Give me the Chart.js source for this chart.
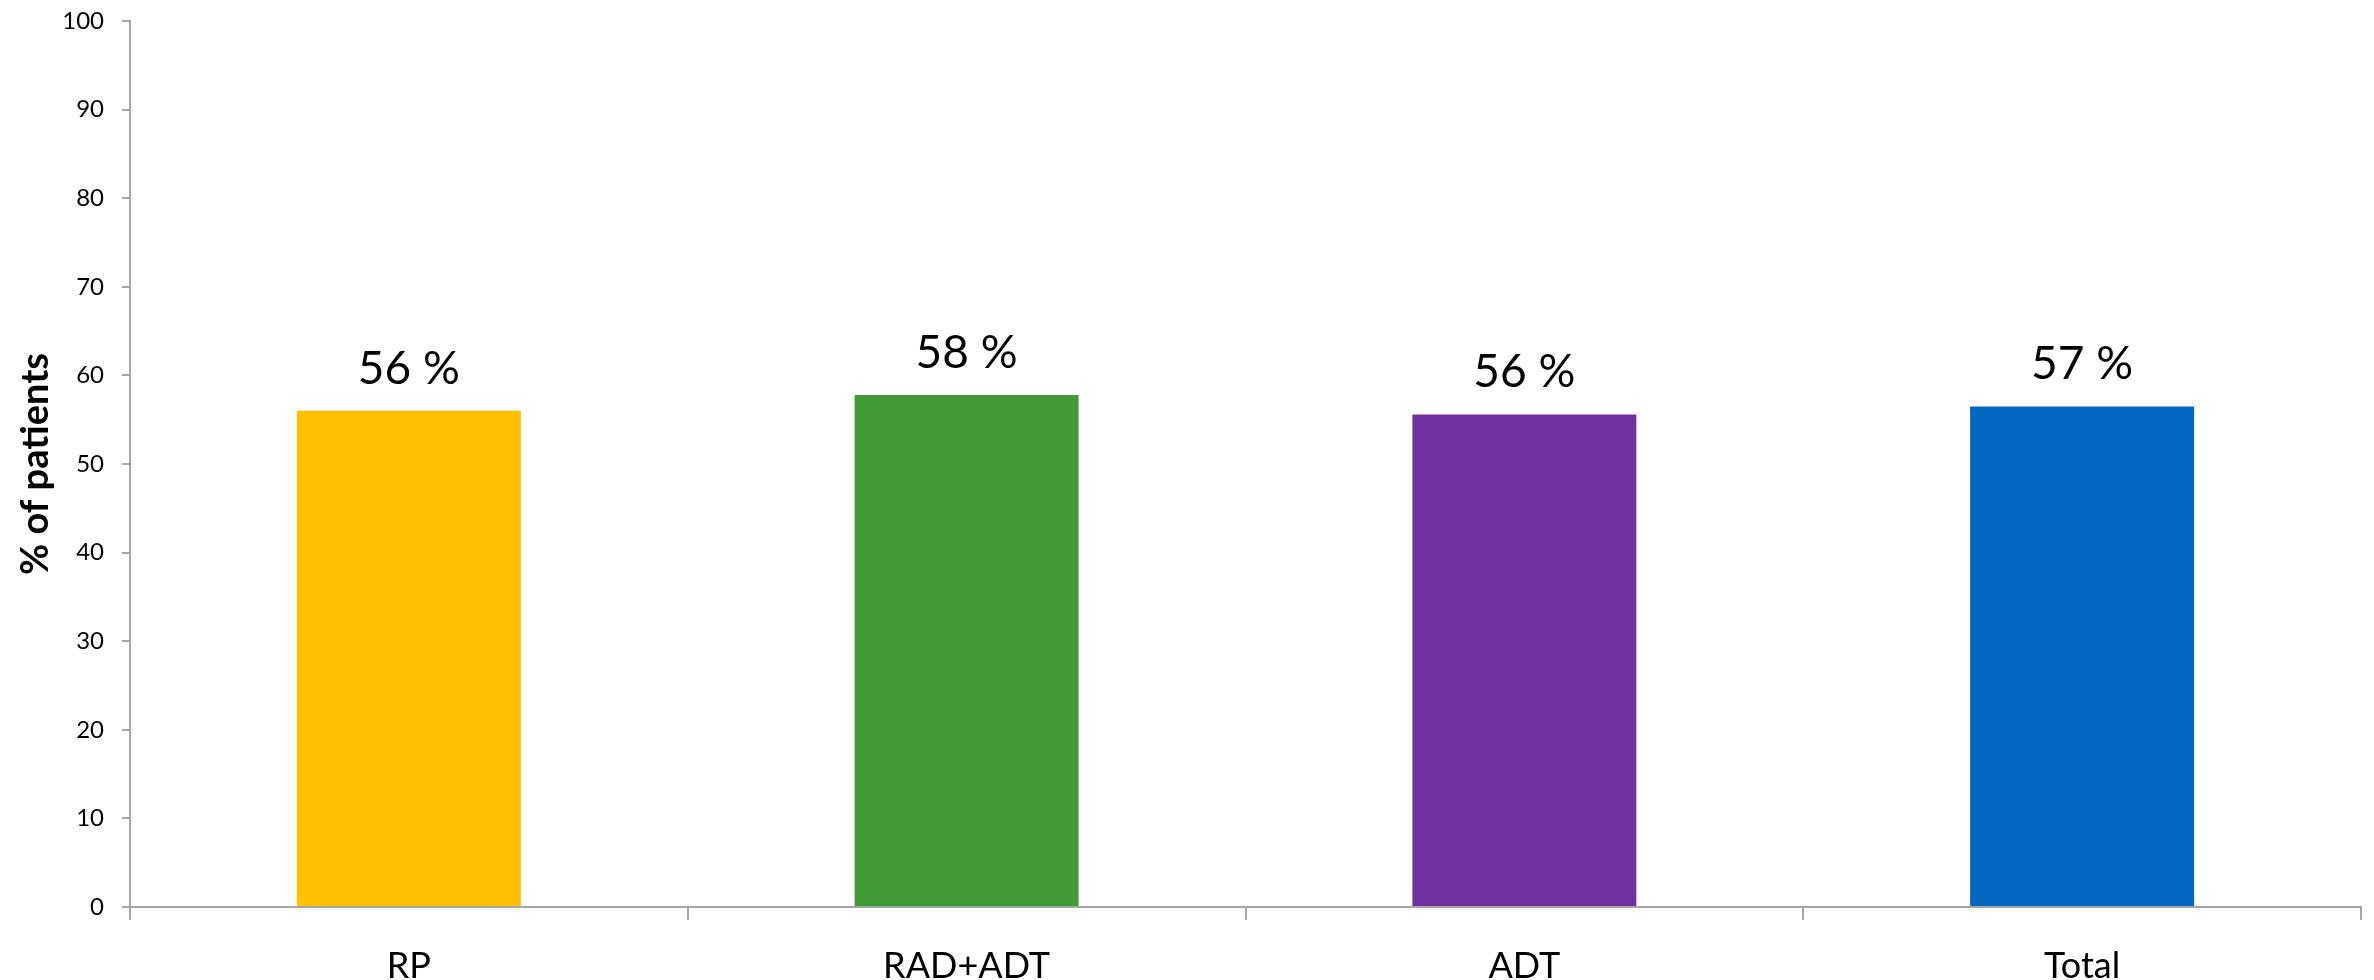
<!DOCTYPE html>
<html>
<head>
<meta charset="utf-8">
<script src="https://cdn.jsdelivr.net/npm/chart.js@4/dist/chart.umd.min.js"></script>
<style>
  html, body { margin: 0; padding: 0; background: #fff; }
  #wrap { width: 2374px; height: 980px; position: relative; }
</style>
</head>
<body>
<div id="wrap"><canvas id="c" width="2374" height="980"></canvas></div>
<script>
// Share of patients per treatment group
const categories = ['RP', 'RAD+ADT', 'ADT', 'Total'];
const percentPatients = [56, 57.8, 55.6, 56.5];
const barColors = ['#FFC000', '#419C36', '#7030A0', '#0467C0'];
const yTicks = [0, 10, 20, 30, 40, 50, 60, 70, 80, 90, 100];

const FONT = 'Lato, "Open Sans", sans-serif';
const AXIS_GREY = '#a6a6a6';

// Writes the rounded percentage above each bar
const valueLabels = {
  id: 'valueLabels',
  afterDatasetsDraw(chart) {
    const ctx = chart.ctx;
    const meta = chart.getDatasetMeta(0);
    ctx.save();
    ctx.font = '46px ' + FONT;
    ctx.fillStyle = '#000';
    ctx.textAlign = 'center';
    ctx.textBaseline = 'alphabetic';
    meta.data.forEach((bar, i) => {
      const v = chart.data.datasets[0].data[i];
      ctx.fillText(Math.round(v) + ' %', bar.x, bar.y - 27);
    });
    ctx.restore();
  }
};

new Chart(document.getElementById('c'), {
  type: 'bar',
  data: {
    labels: categories,
    datasets: [{
      data: percentPatients,
      backgroundColor: barColors,
      borderWidth: 0,
      barPercentage: 0.4016,
      categoryPercentage: 1
    }]
  },
  options: {
    responsive: false,
    animation: false,
    devicePixelRatio: 1,
    layout: { padding: { top: 21, right: 13, left: 0, bottom: 0 } },
    plugins: {
      legend: { display: false },
      tooltip: { enabled: false }
    },
    scales: {
      x: {
        grid: {
          offset: true,
          drawOnChartArea: false,
          drawTicks: true,
          tickLength: 13,
          color: AXIS_GREY,
          lineWidth: 2
        },
        border: { display: true, color: AXIS_GREY, width: 2 },
        ticks: {
          color: '#000',
          font: { family: FONT, size: 36 },
          padding: 25
        },
        afterFit(scale) {
          scale.height = 73;
          scale.paddingLeft = 0;
          scale.paddingRight = 0;
        }
      },
      y: {
        min: 0,
        max: 100,
        afterBuildTicks(scale) { scale.ticks = yTicks.map(v => ({ value: v })); },
        grid: {
          drawOnChartArea: false,
          drawTicks: true,
          tickLength: 8,
          color: AXIS_GREY,
          lineWidth: 2
        },
        border: { display: true, color: AXIS_GREY, width: 2 },
        ticks: {
          color: '#000',
          font: { family: FONT, size: 24 },
          padding: 18
        },
        title: {
          display: true,
          text: '% of patients',
          color: '#000',
          font: { family: FONT, size: 38, weight: 'bold' },
          padding: { top: 13, bottom: 0 }
        },
        afterFit(scale) {
          scale.width = 130;
          scale.paddingTop = 0;
          scale.paddingBottom = 0;
        }
      }
    }
  },
  plugins: [valueLabels]
});
</script>
</body>
</html>
